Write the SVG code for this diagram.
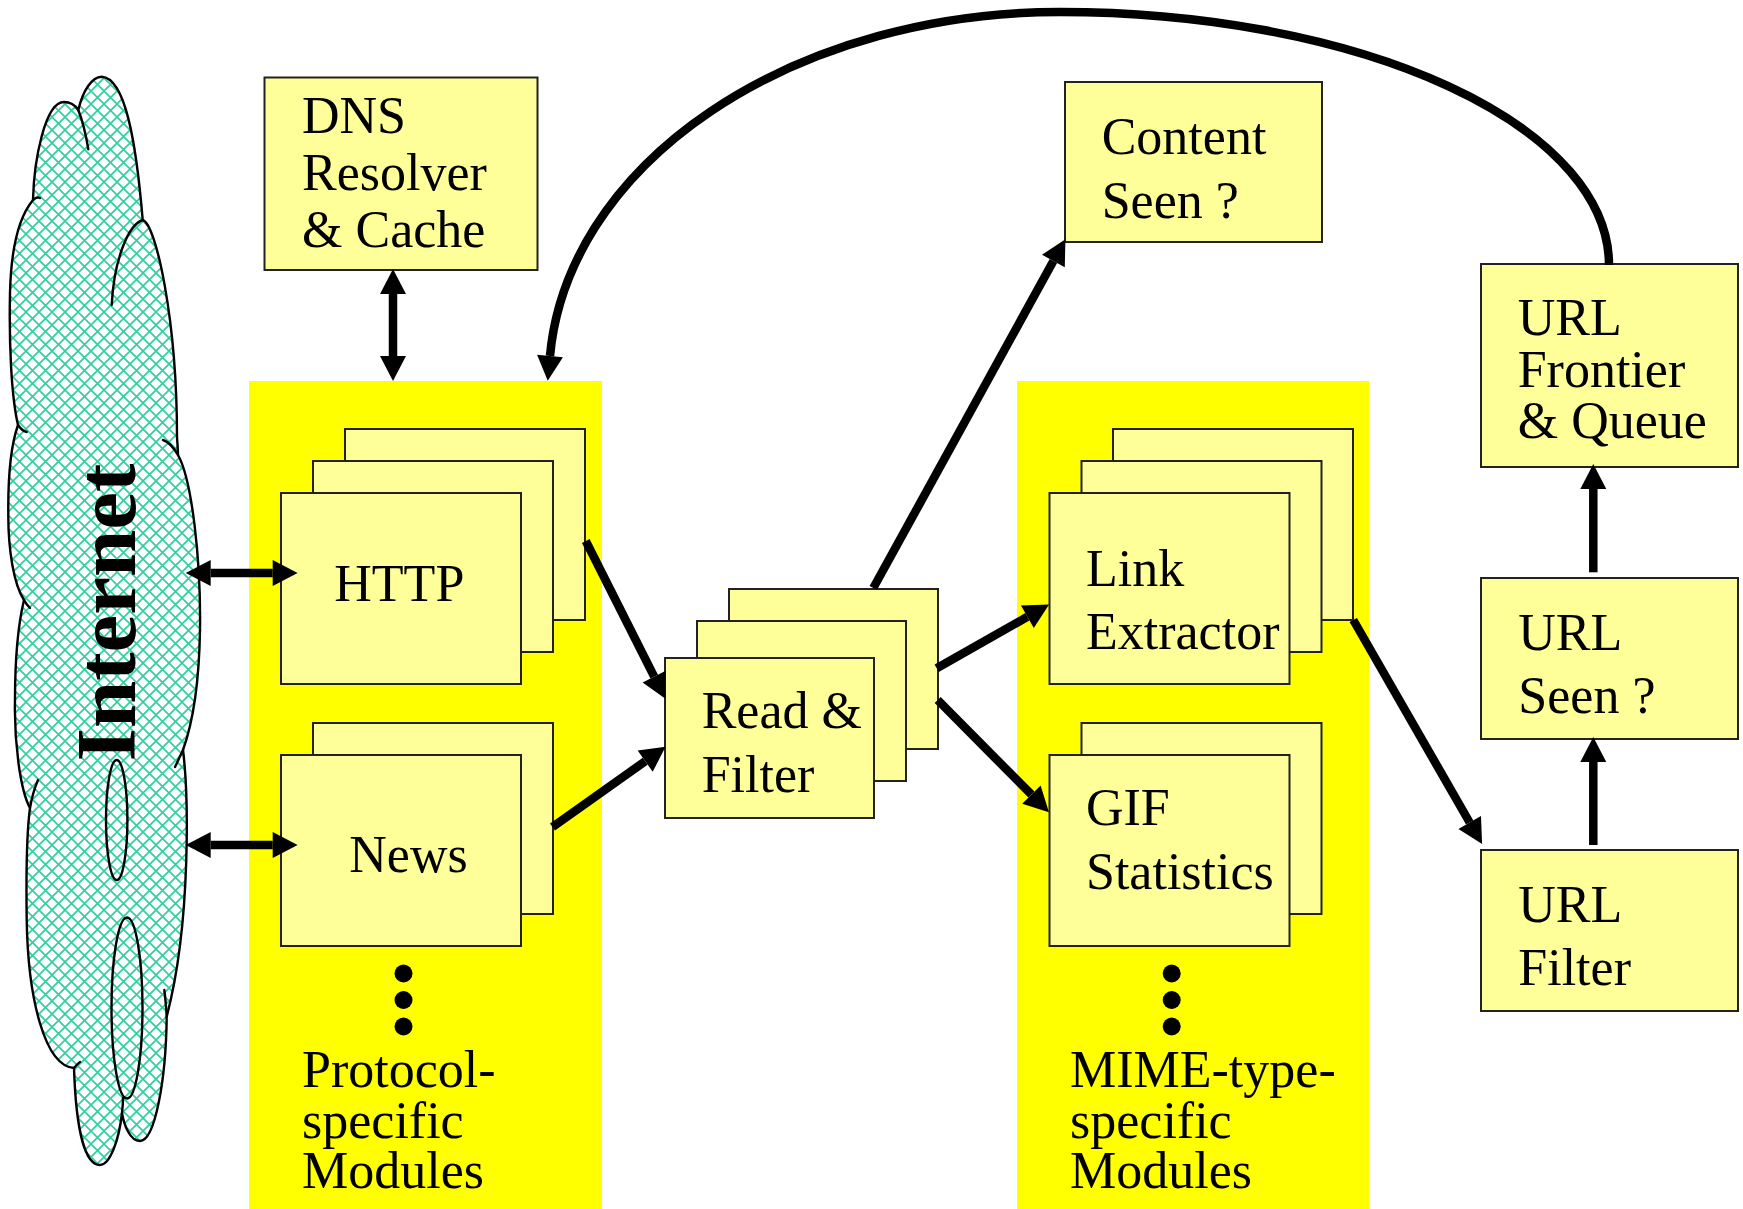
<svg xmlns="http://www.w3.org/2000/svg" width="1743" height="1209" viewBox="0 0 1743 1209">
<style>
.box{fill:#FFFF99;stroke:#222;stroke-width:2}
.region{fill:#FFFF00}
.t{font-family:"Liberation Serif","Times New Roman",serif;font-size:52px;fill:#000}
.ar{stroke:#000;stroke-width:8.5;fill:none}
.cl{stroke:#000;stroke-width:2.4;fill:none;stroke-linecap:round}
.dot{fill:#000}
</style>
<defs>
<pattern id="hatch" width="13" height="13" patternUnits="userSpaceOnUse">
<rect width="13" height="13" fill="#fff"/>
<path d="M0,0L13,13M13,0L0,13M-1,12L1,14M12,-1L14,1" stroke="#2ECF9E" stroke-width="1.6"/>
</pattern>
<marker id="ah" markerUnits="userSpaceOnUse" markerWidth="27" markerHeight="27" viewBox="0 -13 25 26" refX="0" refY="0" orient="auto-start-reverse">
<path d="M0,-12.5L24,0L0,12.5z" fill="#000"/>
</marker>
</defs>
<rect width="1743" height="1209" fill="#fff"/>

<g id="internet">
<path d="M101.7,76.7C125,78 136,140 142.7,220C156,224 177,320 177,437C177.5,445 178,450 178,455C192,480 201,560 200,630C199,690 192,725 183,750C188,790 192,920 166.7,1016.7C166,1080 155,1141 140,1141C130,1141 124,1125 122,1113C119,1140 110,1165 100,1165C85,1165 76,1130 74,1068C45,1066 28,1000 26.7,920C26,870 27,830 30,808C20,790 14,740 15,700C15,660 18,625 24,600C14,585 8,550 8.3,513C8,480 11,445 18,425C11,395 9,340 10,293C11,250 18,218 33,200C34,160 45,102 64,102C70,102 75,105 78.3,110C83,90 92,77 101.7,76.7Z" fill="url(#hatch)" stroke="#000" stroke-width="2.4"/>
<path class="cl" d="M78.3,110C83,122 86,135 88.3,149.3"/>
<path class="cl" d="M142.7,220C128,225 114,260 111.7,305"/>
<path class="cl" d="M18,425C20,428 23,431 26.7,432"/>
<path class="cl" d="M33,200C35,198 38,197 40,198"/>
<path class="cl" d="M178,455C174,448 169,442 163,440"/>
<path class="cl" d="M24,600C26,604 28,606 30,608"/>
<path class="cl" d="M183,750C180,756 178,761 175,767"/>
<path class="cl" d="M30,808C32,796 35,787 38,780"/>
<path class="cl" d="M74,1068C76,1066 78,1063 80,1062"/>
<path class="cl" d="M166.7,1016.7C166,1005 165,995 164.3,990"/>
<path class="cl" d="M122,1113C123,1105 123,1100 123,1098"/>
<ellipse cx="116.7" cy="820" rx="10.7" ry="60" fill="none" stroke="#000" stroke-width="2.4"/>
<ellipse cx="127" cy="1008" rx="15.5" ry="90.5" fill="none" stroke="#000" stroke-width="2.4"/>
<text transform="translate(135,612.5) rotate(-90)" text-anchor="middle" font-family="Liberation Serif, Times New Roman, serif" font-weight="bold" font-size="85">Internet</text>
</g>

<g id="protocol-modules">
<rect class="region" x="249" y="381" width="353" height="828"/>
<text class="t"><tspan x="302" y="1087">Protocol-</tspan><tspan x="302" y="1138">specific</tspan><tspan x="302" y="1188">Modules</tspan></text>
<circle class="dot" cx="403.5" cy="973.5" r="9"/>
<circle class="dot" cx="403.5" cy="1000" r="9"/>
<circle class="dot" cx="403.5" cy="1026.5" r="9"/>
</g>

<g id="mime-modules">
<rect class="region" x="1017" y="381" width="352.5" height="828"/>
<text class="t"><tspan x="1070" y="1087">MIME-type-</tspan><tspan x="1070" y="1138">specific</tspan><tspan x="1070" y="1188">Modules</tspan></text>
<circle class="dot" cx="1171.7" cy="973.5" r="9"/>
<circle class="dot" cx="1171.7" cy="1000" r="9"/>
<circle class="dot" cx="1171.7" cy="1026.5" r="9"/>
</g>

<g id="dns">
<rect class="box" x="264.5" y="77.5" width="273" height="192.5"/>
<text class="t"><tspan x="302" y="133.3">DNS</tspan><tspan x="302" y="190">Resolver</tspan><tspan x="302" y="246.7">&amp; Cache</tspan></text>
</g>

<g id="http">
<rect class="box" x="345" y="429" width="240" height="191"/>
<rect class="box" x="313" y="461" width="240" height="191"/>
<rect class="box" x="281" y="493" width="240" height="191"/>
<text class="t" x="334.3" y="601.3">HTTP</text>
</g>

<g id="news">
<rect class="box" x="313" y="723" width="240" height="191"/>
<rect class="box" x="281" y="755" width="240" height="191"/>
<text class="t" x="349.3" y="872">News</text>
</g>

<g id="read-filter">
<rect class="box" x="729" y="589" width="209" height="160"/>
<rect class="box" x="697" y="621" width="209" height="160"/>
<rect class="box" x="665" y="658" width="209" height="160"/>
<text class="t"><tspan x="701.7" y="728.3">Read &amp;</tspan><tspan x="701.7" y="792.3">Filter</tspan></text>
</g>

<g id="content-seen">
<rect class="box" x="1065" y="82" width="257" height="160"/>
<text class="t" font-size="53"><tspan x="1101.7" y="154">Content</tspan><tspan x="1101.7" y="218.3">Seen ?</tspan></text>
</g>

<g id="link-extractor">
<rect class="box" x="1113" y="429" width="240" height="191"/>
<rect class="box" x="1081.5" y="461" width="240" height="191"/>
<rect class="box" x="1049.5" y="493" width="240" height="191"/>
<text class="t"><tspan x="1086" y="586">Link</tspan><tspan x="1086" y="649">Extractor</tspan></text>
</g>

<g id="gif-statistics">
<rect class="box" x="1081.5" y="723" width="240" height="191"/>
<rect class="box" x="1049.5" y="755" width="240" height="191"/>
<text class="t"><tspan x="1086" y="825">GIF</tspan><tspan x="1086" y="889">Statistics</tspan></text>
</g>

<g id="url-frontier">
<rect class="box" x="1481" y="264" width="257" height="203"/>
<text class="t"><tspan x="1517.7" y="335">URL</tspan><tspan x="1517.7" y="386.7">Frontier</tspan><tspan x="1517.7" y="438.3">&amp; Queue</tspan></text>
</g>

<g id="url-seen">
<rect class="box" x="1481" y="578" width="257" height="161"/>
<text class="t"><tspan x="1518.3" y="650">URL</tspan><tspan x="1518.3" y="713.3">Seen ?</tspan></text>
</g>

<g id="url-filter">
<rect class="box" x="1481" y="850" width="257" height="161"/>
<text class="t"><tspan x="1518.3" y="921.7">URL</tspan><tspan x="1518.3" y="985">Filter</tspan></text>
</g>

<g id="connectors">
<path class="ar" d="M393,294L393,356" marker-start="url(#ah)" marker-end="url(#ah)"/>
<path class="ar" d="M210.7,573L272.7,573" marker-start="url(#ah)" marker-end="url(#ah)"/>
<path class="ar" d="M210.7,845L272.7,845" marker-start="url(#ah)" marker-end="url(#ah)"/>
<path class="ar" d="M585.8,541L654.2,676.6" marker-end="url(#ah)"/>
<path class="ar" d="M552.5,827L645.2,761.2" marker-end="url(#ah)"/>
<path class="ar" d="M873.3,588L1053.4,261" marker-end="url(#ah)"/>
<path class="ar" d="M936.7,668.3L1027.4,616.8" marker-end="url(#ah)"/>
<path class="ar" d="M937.7,700L1031.4,794.6" marker-end="url(#ah)"/>
<path class="ar" d="M1353.3,620L1469.7,822.5" marker-end="url(#ah)"/>
<path class="ar" d="M1593.3,845L1593.3,762" marker-end="url(#ah)"/>
<path class="ar" d="M1593.3,572.3L1593.3,489" marker-end="url(#ah)"/>
<path class="ar" d="M1609,265A549,253 0 0 0 1060,12A511,368 0 0 0 550,356" marker-end="url(#ah)"/>
</g>
</svg>
